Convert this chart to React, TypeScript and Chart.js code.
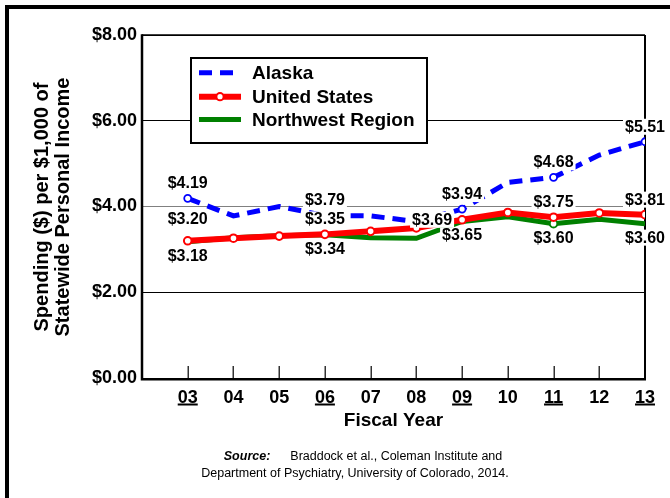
import { useEffect, useRef } from 'react';
import { Chart, registerables } from 'chart.js';
Chart.register(...registerables);

// ---- data ----
const years = [3, 4, 5, 6, 7, 8, 9, 10, 11, 12, 13];
const alaska = [4.19, 3.78, 4.0, 3.79, 3.78, 3.65, 3.94, 4.56, 4.68, 5.2, 5.51];
const unitedStates = [3.2, 3.26, 3.31, 3.35, 3.42, 3.5, 3.69, 3.86, 3.75, 3.85, 3.81];
const northwest = [3.18, 3.27, 3.32, 3.34, 3.27, 3.26, 3.65, 3.76, 3.6, 3.7, 3.6];
const yTicks = [0, 2, 4, 6, 8];
const underlinedYears = [3, 6, 9, 11, 13];
const labelYears = [3, 6, 9, 11, 13];
const seriesNames = ['Alaska', 'United States', 'Northwest Region'];
const yTitleLines = ['Spending ($) per $1,000 of', 'Statewide Personal Income'];
const xTitle = 'Fiscal Year';
const sourceLabel = 'Source:';
const sourceLine1 = 'Braddock et al., Coleman Institute and';
const sourceLine2 = 'Department of Psychiatry, University of Colorado, 2014.';

// label placement per series (style)
const labelPlacement: string[][] = [
  ['above', 'above', 'above', 'above', 'above'],
  ['aboveHigh', 'above', 'left', 'above', 'above'],
  ['below', 'below', 'below', 'below', 'below'],
];

const FONT = "'Liberation Sans', Arial, Helvetica, sans-serif";
const BLUE = '#0000FF';
const RED = '#FF0000';
const GREEN = '#008000';

const toPts = (vals: number[]) => years.map((x, i) => ({ x, y: vals[i] }));

const decorPlugin = {
  id: 'decor',
  beforeDraw(chart: any) {
    const { ctx, width, height } = chart;
    ctx.save();
    ctx.fillStyle = '#fff';
    ctx.fillRect(0, 0, width, height);
    ctx.restore();
  },
  beforeDatasetsDraw(chart: any) {
    const { ctx, chartArea: a, scales } = chart;
    ctx.save();
    // inside tick marks on x axis
    ctx.strokeStyle = '#333';
    ctx.lineWidth = 1.5;
    years.forEach((yr) => {
      const x = Math.round(scales.x.getPixelForValue(yr)) + 0.25;
      ctx.beginPath();
      ctx.moveTo(x, a.bottom);
      ctx.lineTo(x, a.bottom - 12);
      ctx.stroke();
    });
    // frame
    ctx.strokeStyle = '#000';
    ctx.lineWidth = 1.5;
    ctx.beginPath();
    ctx.moveTo(a.left, a.top);
    ctx.lineTo(a.right, a.top);
    ctx.stroke();
    ctx.lineWidth = 2;
    ctx.beginPath();
    ctx.moveTo(a.right, a.top);
    ctx.lineTo(a.right, a.bottom);
    ctx.stroke();
    ctx.lineWidth = 2.5;
    ctx.beginPath();
    ctx.moveTo(a.left, a.top - 0.7);
    ctx.lineTo(a.left, a.bottom + 1.2);
    ctx.lineTo(a.right + 1, a.bottom + 1.2);
    ctx.stroke();
    ctx.restore();
  },
  afterDatasetsDraw(chart: any) {
    const { ctx, chartArea: a, scales } = chart;
    ctx.save();
    // data labels
    ctx.font = `bold 16px ${FONT}`;
    ctx.textBaseline = 'middle';
    [alaska, unitedStates, northwest].forEach((vals, si) => {
      const meta = chart.getDatasetMeta(si);
      labelYears.forEach((yr, li) => {
        const idx = years.indexOf(yr);
        const pt = meta.data[idx];
        const text = `$${vals[idx].toFixed(2)}`;
        const w = ctx.measureText(text).width;
        const pos = labelPlacement[si][li];
        let cx = pt.x;
        let cy = pt.y;
        if (pos === 'above') cy = pt.y - 15;
        else if (pos === 'aboveHigh') cy = pt.y - 22;
        else if (pos === 'below') cy = pt.y + 14;
        else if (pos === 'left') cx = pt.x - 10 - w / 2;
        ctx.fillStyle = '#fff';
        ctx.fillRect(cx - w / 2 - 2, cy - 8, w + 4, 16);
        ctx.fillStyle = '#000';
        ctx.textAlign = 'center';
        ctx.fillText(text, cx, cy + 0.5);
      });
    });

    // legend
    const lx = 191, ly = 58, lw = 236, lh = 85;
    ctx.fillStyle = '#fff';
    ctx.fillRect(lx, ly, lw, lh);
    ctx.strokeStyle = '#000';
    ctx.lineWidth = 2;
    ctx.strokeRect(lx, ly, lw, lh);
    const rows = [72.7, 96.7, 119.5];
    const styles = [
      { c: BLUE, w: 5, dash: [13, 8], marker: false },
      { c: RED, w: 6, dash: [], marker: true },
      { c: GREEN, w: 5, dash: [], marker: false },
    ];
    rows.forEach((ry, i) => {
      const s = styles[i];
      ctx.strokeStyle = s.c;
      ctx.lineWidth = s.w;
      ctx.setLineDash(s.dash);
      ctx.beginPath();
      ctx.moveTo(199, ry);
      ctx.lineTo(241, ry);
      ctx.stroke();
      ctx.setLineDash([]);
      if (s.marker) {
        ctx.beginPath();
        ctx.arc(220, ry, 3.6, 0, Math.PI * 2);
        ctx.fillStyle = '#fff';
        ctx.fill();
        ctx.lineWidth = 2;
        ctx.strokeStyle = RED;
        ctx.stroke();
      }
      ctx.fillStyle = '#000';
      ctx.font = `bold 19px ${FONT}`;
      ctx.textAlign = 'left';
      ctx.textBaseline = 'middle';
      ctx.fillText(seriesNames[i], 252, ry + 1);
    });

    // underlines under selected x labels
    ctx.strokeStyle = '#000';
    ctx.lineWidth = 2;
    ctx.font = `bold 18px ${FONT}`;
    underlinedYears.forEach((yr) => {
      const x = scales.x.getPixelForValue(yr);
      const w = ctx.measureText(String(yr).padStart(2, '0')).width;
      ctx.beginPath();
      ctx.moveTo(x - w / 2, 404.5);
      ctx.lineTo(x + w / 2, 404.5);
      ctx.stroke();
    });

    // axis titles
    ctx.fillStyle = '#000';
    ctx.textAlign = 'center';
    ctx.textBaseline = 'middle';
    ctx.font = `bold 19px ${FONT}`;
    ctx.fillText(xTitle, (a.left + a.right) / 2, 421);
    ctx.font = `bold 20px ${FONT}`;
    [42, 63].forEach((tx, i) => {
      ctx.save();
      ctx.translate(tx, 207);
      ctx.rotate(-Math.PI / 2);
      ctx.fillText(yTitleLines[i], 0, 0);
      ctx.restore();
    });

    // source
    ctx.font = `italic bold 12.5px ${FONT}`;
    const w1 = ctx.measureText(sourceLabel).width;
    ctx.font = `12.5px ${FONT}`;
    const w2 = ctx.measureText(sourceLine1).width;
    const gap = 20;
    const sx = 363 - (w1 + gap + w2) / 2;
    ctx.textAlign = 'left';
    ctx.font = `italic bold 12.5px ${FONT}`;
    ctx.fillText(sourceLabel, sx, 457);
    ctx.font = `12.5px ${FONT}`;
    ctx.fillText(sourceLine1, sx + w1 + gap, 457);
    ctx.textAlign = 'center';
    ctx.fillText(sourceLine2, 355, 474);

    // outer frame
    ctx.strokeStyle = '#000';
    ctx.lineWidth = 4;
    ctx.strokeRect(7, 7, 700, 600);
    ctx.restore();
  },
};

export default function App() {
  const ref = useRef<HTMLCanvasElement | null>(null);
  useEffect(() => {
    if (!ref.current) return;
    const markerAt = (list: number[], r: number) => (c: any) =>
      list.includes(years[c.dataIndex]) ? r : 0;
    const chart = new Chart(ref.current, {
      type: 'line',
      data: {
        datasets: [
          {
            label: seriesNames[0],
            data: toPts(alaska),
            borderColor: BLUE,
            borderWidth: 5,
            borderDash: [13, 8],
            pointRadius: markerAt([3, 9, 11, 13], 3.5),
            pointBackgroundColor: '#fff',
            pointBorderColor: BLUE,
            pointBorderWidth: 1.8,
            tension: 0,
          },
          {
            label: seriesNames[1],
            data: toPts(unitedStates),
            borderColor: RED,
            borderWidth: 6,
            pointRadius: 3.8,
            pointBackgroundColor: '#fff',
            pointBorderColor: RED,
            pointBorderWidth: 2,
            tension: 0,
          },
          {
            label: seriesNames[2],
            data: toPts(northwest),
            borderColor: GREEN,
            borderWidth: 5,
            pointRadius: markerAt([11], 3.8),
            pointBackgroundColor: '#fff',
            pointBorderColor: GREEN,
            pointBorderWidth: 2,
            tension: 0,
          },
        ],
      },
      options: {
        responsive: false,
        animation: false,
        devicePixelRatio: 1,
        layout: { padding: { left: 0, right: 25, top: 35, bottom: 0 } },
        plugins: { legend: { display: false }, tooltip: { enabled: false } },
        scales: {
          x: {
            type: 'linear',
            min: 2,
            max: 13,
            afterBuildTicks: (s: any) => {
              s.ticks = years.map((v) => ({ value: v }));
            },
            afterFit: (s: any) => {
              s.height = 120;
            },
            grid: { display: false },
            border: { display: false },
            ticks: {
              autoSkip: false,
              maxRotation: 0,
              padding: 1,
              color: '#000',
              font: { family: FONT, size: 18, weight: 'bold' },
              callback: (v: any) => String(v).padStart(2, '0'),
            },
          },
          y: {
            min: 0,
            max: 8,
            afterBuildTicks: (s: any) => {
              s.ticks = yTicks.map((v) => ({ value: v }));
            },
            afterFit: (s: any) => {
              s.width = 142;
            },
            border: { display: false },
            grid: {
              drawTicks: false,
              lineWidth: 1,
              color: (c: any) => (c.tick && c.tick.value === 4 ? '#808080' : '#000'),
            },
            ticks: {
              padding: 5,
              color: '#000',
              font: { family: FONT, size: 18, weight: 'bold' },
              callback: (v: any) => `$${Number(v).toFixed(2)}`,
            },
          },
        },
      },
      plugins: [decorPlugin],
    } as any);
    return () => chart.destroy();
  }, []);
  return (
    <div style={{ position: 'absolute', left: 0, top: 0, width: 670, height: 498 }}>
      <canvas ref={ref} width={670} height={498} />
    </div>
  );
}
